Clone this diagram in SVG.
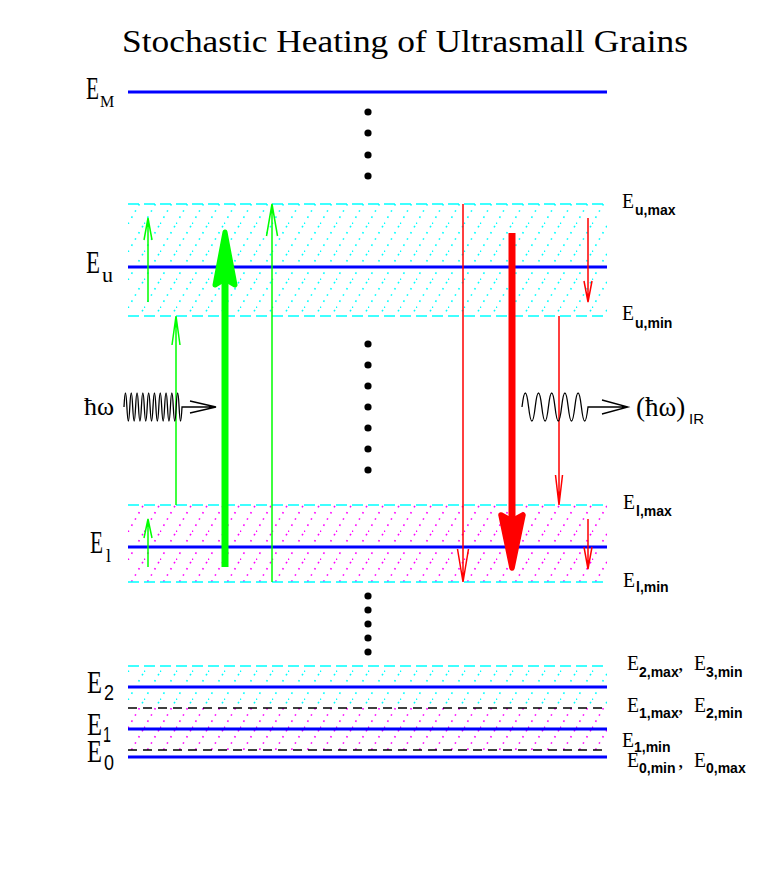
<svg xmlns="http://www.w3.org/2000/svg" width="763" height="872" viewBox="0 0 763 872">
<style>
.lvl{stroke:#0000ff;stroke-width:3;fill:none}
.cd{stroke:#00ffff;stroke-width:1.6;stroke-dasharray:11 5;fill:none}
.kd{stroke:#000;stroke-width:1.3;stroke-dasharray:9 6;fill:none}
.g{stroke:#00ff00;stroke-width:1.5;fill:none}
.r{stroke:#ff0000;stroke-width:1.5;fill:none}
.w{stroke:#000;stroke-width:1.3;fill:none}
.t{font-family:"Liberation Serif",serif;fill:#000}
.s{font-family:"Liberation Sans",sans-serif;font-weight:bold;fill:#000}
.n{font-family:"Liberation Sans",sans-serif;font-weight:normal;fill:#000}
</style>
<defs>
<pattern id="hc" patternUnits="userSpaceOnUse" width="16" height="28">
<line x1="0" y1="28" x2="16" y2="0" stroke="#00ffff" stroke-width="1.6" stroke-dasharray="1.6 5.5"/>
</pattern>
<pattern id="hm" patternUnits="userSpaceOnUse" width="16" height="28">
<line x1="0" y1="28" x2="16" y2="0" stroke="#ff00ff" stroke-width="1.6" stroke-dasharray="1.6 5.5"/>
</pattern>
</defs>
<rect width="763" height="872" fill="#fff"/>
<text class="t" x="122" y="52" font-size="32" textLength="566" lengthAdjust="spacingAndGlyphs">Stochastic Heating of Ultrasmall Grains</text>

<g id="bands">
<rect x="128" y="204" width="479" height="112" fill="url(#hc)"/>
<rect x="128" y="505" width="479" height="77" fill="url(#hm)"/>
<rect x="128" y="666" width="479" height="42" fill="url(#hc)"/>
<rect x="128" y="708" width="479" height="42" fill="url(#hm)"/>
<line class="cd" x1="128" y1="204" x2="607" y2="204"/>
<line class="cd" x1="128" y1="316" x2="607" y2="316"/>
<line class="cd" x1="128" y1="505" x2="607" y2="505"/>
<line class="cd" x1="128" y1="582" x2="607" y2="582"/>
<line class="cd" x1="128" y1="666" x2="607" y2="666"/>
<line class="kd" x1="128" y1="708" x2="607" y2="708"/>
<line class="kd" x1="128" y1="750" x2="607" y2="750" stroke-dasharray="7 5"/>
</g>

<g id="levels">
<line class="lvl" x1="128" y1="92" x2="607" y2="92"/>
<line class="lvl" x1="128" y1="267" x2="607" y2="267"/>
<line class="lvl" x1="128" y1="547" x2="607" y2="547"/>
<line class="lvl" x1="128" y1="687" x2="607" y2="687"/>
<line class="lvl" x1="128" y1="729" x2="607" y2="729"/>
<line class="lvl" x1="128" y1="757" x2="607" y2="757"/>
</g>

<g id="dots" fill="#000">
<circle cx="368" cy="112" r="3.6"/><circle cx="368" cy="133" r="3.6"/><circle cx="368" cy="155" r="3.6"/><circle cx="368" cy="176" r="3.6"/>
<circle cx="368" cy="344" r="3.6"/><circle cx="368" cy="365" r="3.6"/><circle cx="368" cy="386" r="3.6"/><circle cx="368" cy="407" r="3.6"/><circle cx="368" cy="428" r="3.6"/><circle cx="368" cy="449" r="3.6"/><circle cx="368" cy="470" r="3.6"/>
<circle cx="368" cy="596" r="3.6"/><circle cx="368" cy="610" r="3.6"/><circle cx="368" cy="624" r="3.6"/><circle cx="368" cy="638" r="3.6"/><circle cx="368" cy="652" r="3.6"/>
</g>

<g id="connectors">
<path class="g" d="M148,302 V218 M144,240 L148,218 L152,240"/>
<path class="g" d="M176,505 V316 M172,345 L176,316 L180,345"/>
<path class="g" d="M272,582 V204 M266.5,236 L272,204 L277.5,236"/>
<path class="g" d="M148,567 V519 M144,538 L148,519 L152,538"/>
<line x1="225" y1="567" x2="225" y2="270" stroke="#00ff00" stroke-width="7"/>
<polygon points="225,232 215,285 225,279 235,285" fill="#00ff00" stroke="#00ff00" stroke-width="5" stroke-linejoin="round"/>
<path class="r" d="M463,204 V582 M457.5,549 L463,582 L468.5,549"/>
<path class="r" d="M559,316 V505 M555.5,475 L559,505 L562.5,475"/>
<path class="r" d="M588,218 V302 M584,281 L588,302 L592,281"/>
<path class="r" d="M588,519 V569 M584,547 L588,569 L592,547"/>
<line x1="512" y1="233" x2="512" y2="530" stroke="#ff0000" stroke-width="7"/>
<polygon points="512,568 501,515 512,521 523,515" fill="#ff0000" stroke="#ff0000" stroke-width="5.5" stroke-linejoin="round"/>
<path class="w" d="M124,407 q1.45,-28 2.9,0 t2.9,0 t2.9,0 t2.9,0 t2.9,0 t2.9,0 t2.9,0 t2.9,0 t2.9,0 t2.9,0 t2.9,0 t2.9,0 t2.9,0 t2.9,0 t2.9,0 t2.9,0 t2.9,0 t2.9,0 t2.9,0 t2.9,0 L216,407 M190,401 L216,407 L190,413"/>
<path class="w" d="M522,407 q3.3,-28 6.6,0 t6.6,0 t6.6,0 t6.6,0 t6.6,0 t6.6,0 t6.6,0 t6.6,0 t6.6,0 t6.6,0 L628,407 M602,400 L628,407 L602,414"/>
</g>

<g id="labels-left">
<text class="t" x="86" y="99" font-size="32" textLength="13" lengthAdjust="spacingAndGlyphs">E</text>
<text class="t" x="100" y="107" font-size="16">M</text>
<text class="t" x="86" y="273" font-size="32" textLength="14" lengthAdjust="spacingAndGlyphs">E</text>
<text class="t" x="102" y="282" font-size="22">u</text>
<text class="t" x="90" y="553" font-size="32" textLength="13" lengthAdjust="spacingAndGlyphs">E</text>
<text class="t" x="106" y="562" font-size="18">l</text>
<text class="t" x="87" y="693" font-size="32" textLength="15" lengthAdjust="spacingAndGlyphs">E</text>
<text class="n" x="104" y="700" font-size="22" textLength="10" lengthAdjust="spacingAndGlyphs">2</text>
<text class="t" x="87" y="735" font-size="32" textLength="15" lengthAdjust="spacingAndGlyphs">E</text>
<text class="n" x="103" y="742" font-size="22" textLength="8" lengthAdjust="spacingAndGlyphs">1</text>
<text class="t" x="87" y="762" font-size="32" textLength="15" lengthAdjust="spacingAndGlyphs">E</text>
<text class="n" x="104" y="770" font-size="22" textLength="10" lengthAdjust="spacingAndGlyphs">0</text>
<text class="t" x="84" y="415" font-size="26">ħω</text>
<text class="t" x="636" y="416" font-size="27">(ħω)</text>
<text class="n" x="689" y="424" font-size="15">IR</text>
</g>

<g id="labels-right">
<text class="t" x="622" y="208" font-size="22" textLength="12" lengthAdjust="spacingAndGlyphs">E</text>
<text class="s" x="635" y="215" font-size="14">u,max</text>
<text class="t" x="622" y="320" font-size="22" textLength="12" lengthAdjust="spacingAndGlyphs">E</text>
<text class="s" x="635" y="328" font-size="14">u,min</text>
<text class="t" x="623" y="509" font-size="22" textLength="12" lengthAdjust="spacingAndGlyphs">E</text>
<text class="s" x="636" y="516" font-size="14">l,max</text>
<text class="t" x="623" y="587" font-size="22" textLength="12" lengthAdjust="spacingAndGlyphs">E</text>
<text class="s" x="636" y="592" font-size="14">l,min</text>
<text class="t" x="627" y="670" font-size="22" textLength="12" lengthAdjust="spacingAndGlyphs">E</text>
<text class="s" x="639" y="677" font-size="14">2,max</text>
<text class="t" x="678" y="670" font-size="22">,</text>
<text class="t" x="694" y="670" font-size="22" textLength="12" lengthAdjust="spacingAndGlyphs">E</text>
<text class="s" x="706" y="677" font-size="14">3,min</text>
<text class="t" x="627" y="712" font-size="22" textLength="12" lengthAdjust="spacingAndGlyphs">E</text>
<text class="s" x="639" y="718" font-size="14">1,max</text>
<text class="t" x="678" y="712" font-size="22">,</text>
<text class="t" x="694" y="712" font-size="22" textLength="12" lengthAdjust="spacingAndGlyphs">E</text>
<text class="s" x="706" y="718" font-size="14">2,min</text>
<text class="t" x="622" y="747" font-size="22" textLength="12" lengthAdjust="spacingAndGlyphs">E</text>
<text class="s" x="634" y="752" font-size="14">1,min</text>
<text class="t" x="627" y="767" font-size="22" textLength="12" lengthAdjust="spacingAndGlyphs">E</text>
<text class="s" x="639" y="773" font-size="14">0,min</text>
<text class="t" x="678" y="767" font-size="22">,</text>
<text class="t" x="694" y="767" font-size="22" textLength="12" lengthAdjust="spacingAndGlyphs">E</text>
<text class="s" x="706" y="773" font-size="14">0,max</text>
</g>
</svg>
